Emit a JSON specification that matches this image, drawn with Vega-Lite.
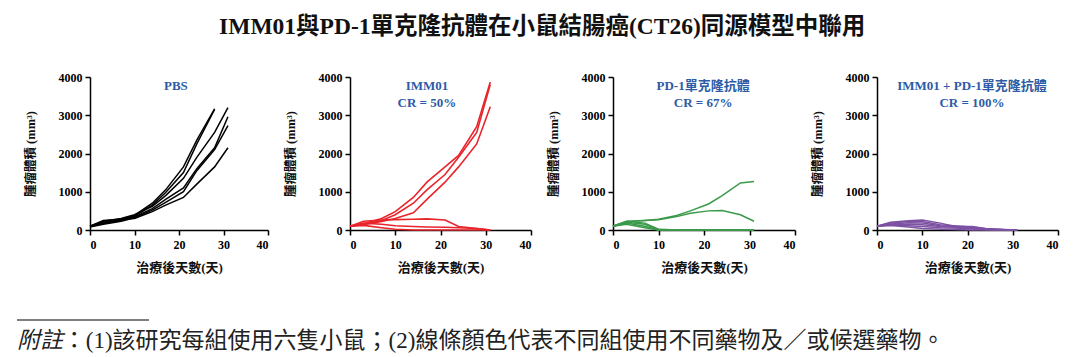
{
  "$schema": "https://vega.github.io/schema/vega-lite/v6.json",
  "padding": {"left": 16, "top": 14, "right": 5, "bottom": 2},
  "title": {
    "text": "IMM01與PD-1單克隆抗體在小鼠結腸癌(CT26)同源模型中聯用",
    "font": "Liberation Serif, Noto Sans CJK TC",
    "fontSize": 23.5,
    "fontWeight": "bold",
    "color": "#111",
    "anchor": "middle",
    "dx": -31,
    "offset": 33
  },
  "config": {
    "view": {"stroke": null},
    "axis": {
      "grid": false,
      "domainColor": "#000",
      "domainWidth": 1.5,
      "tickColor": "#000",
      "tickWidth": 1.5,
      "tickSize": 5,
      "labelFont": "Liberation Serif",
      "labelFontWeight": "bold",
      "labelFontSize": 12,
      "labelColor": "#000",
      "labelOverlap": false,
      "titleFont": "Liberation Serif, Noto Sans CJK TC",
      "titleFontWeight": "bold",
      "titleColor": "#111"
    },
    "axisX": {"titlePadding": 11, "labelPadding": 4, "titleFontSize": 13},
    "axisY": {"titlePadding": 21, "labelPadding": 3, "titleFontSize": 12.5, "format": "d", "tickCount": 5}
  },
  "datasets": {
    "pbs": [
      {"m":"A","d":0,"v":100},{"m":"A","d":3,"v":200},{"m":"A","d":7,"v":280},{"m":"A","d":10,"v":380},{"m":"A","d":14,"v":700},{"m":"A","d":17,"v":1050},{"m":"A","d":21,"v":1650},{"m":"A","d":24,"v":2350},{"m":"A","d":28,"v":3170},
      {"m":"B","d":0,"v":90},{"m":"B","d":3,"v":180},{"m":"B","d":7,"v":260},{"m":"B","d":10,"v":360},{"m":"B","d":14,"v":650},{"m":"B","d":17,"v":980},{"m":"B","d":21,"v":1500},{"m":"B","d":24,"v":2250},{"m":"B","d":28,"v":3150},
      {"m":"C","d":0,"v":100},{"m":"C","d":3,"v":230},{"m":"C","d":7,"v":300},{"m":"C","d":10,"v":400},{"m":"C","d":14,"v":620},{"m":"C","d":17,"v":900},{"m":"C","d":21,"v":1350},{"m":"C","d":24,"v":1900},{"m":"C","d":28,"v":2550},{"m":"C","d":31,"v":3200},
      {"m":"D","d":0,"v":90},{"m":"D","d":3,"v":170},{"m":"D","d":7,"v":250},{"m":"D","d":10,"v":340},{"m":"D","d":14,"v":560},{"m":"D","d":17,"v":800},{"m":"D","d":21,"v":1100},{"m":"D","d":24,"v":1600},{"m":"D","d":28,"v":2150},{"m":"D","d":31,"v":2960},
      {"m":"E","d":0,"v":80},{"m":"E","d":3,"v":150},{"m":"E","d":7,"v":230},{"m":"E","d":10,"v":320},{"m":"E","d":14,"v":520},{"m":"E","d":17,"v":720},{"m":"E","d":21,"v":1000},{"m":"E","d":24,"v":1550},{"m":"E","d":28,"v":2100},{"m":"E","d":31,"v":2730},
      {"m":"F","d":0,"v":100},{"m":"F","d":3,"v":250},{"m":"F","d":7,"v":280},{"m":"F","d":10,"v":300},{"m":"F","d":14,"v":480},{"m":"F","d":17,"v":650},{"m":"F","d":21,"v":850},{"m":"F","d":24,"v":1200},{"m":"F","d":28,"v":1650},{"m":"F","d":31,"v":2150}
    ],
    "imm": [
      {"m":"A","d":0,"v":100},{"m":"A","d":3,"v":160},{"m":"A","d":7,"v":300},{"m":"A","d":10,"v":480},{"m":"A","d":14,"v":850},{"m":"A","d":17,"v":1250},{"m":"A","d":21,"v":1650},{"m":"A","d":24,"v":1950},{"m":"A","d":28,"v":2700},{"m":"A","d":31,"v":3870},
      {"m":"B","d":0,"v":100},{"m":"B","d":3,"v":150},{"m":"B","d":7,"v":250},{"m":"B","d":10,"v":400},{"m":"B","d":14,"v":700},{"m":"B","d":17,"v":1050},{"m":"B","d":21,"v":1450},{"m":"B","d":24,"v":1900},{"m":"B","d":28,"v":2550},{"m":"B","d":31,"v":3800},
      {"m":"C","d":0,"v":100},{"m":"C","d":3,"v":140},{"m":"C","d":7,"v":220},{"m":"C","d":10,"v":300},{"m":"C","d":14,"v":450},{"m":"C","d":17,"v":800},{"m":"C","d":21,"v":1250},{"m":"C","d":24,"v":1650},{"m":"C","d":28,"v":2250},{"m":"C","d":31,"v":3220},
      {"m":"D","d":0,"v":100},{"m":"D","d":3,"v":230},{"m":"D","d":7,"v":260},{"m":"D","d":10,"v":270},{"m":"D","d":14,"v":280},{"m":"D","d":17,"v":290},{"m":"D","d":21,"v":260},{"m":"D","d":24,"v":90},{"m":"D","d":28,"v":40},{"m":"D","d":31,"v":0},
      {"m":"E","d":0,"v":100},{"m":"E","d":3,"v":180},{"m":"E","d":7,"v":150},{"m":"E","d":10,"v":110},{"m":"E","d":14,"v":90},{"m":"E","d":17,"v":80},{"m":"E","d":21,"v":70},{"m":"E","d":24,"v":60},{"m":"E","d":28,"v":40},{"m":"E","d":31,"v":0},
      {"m":"F","d":0,"v":100},{"m":"F","d":3,"v":120},{"m":"F","d":7,"v":60},{"m":"F","d":10,"v":20},{"m":"F","d":14,"v":0},{"m":"F","d":17,"v":0},{"m":"F","d":21,"v":0},{"m":"F","d":24,"v":0},{"m":"F","d":28,"v":0},{"m":"F","d":31,"v":0}
    ],
    "pd1": [
      {"m":"A","d":0,"v":100},{"m":"A","d":3,"v":220},{"m":"A","d":7,"v":250},{"m":"A","d":10,"v":280},{"m":"A","d":14,"v":380},{"m":"A","d":17,"v":500},{"m":"A","d":21,"v":680},{"m":"A","d":24,"v":900},{"m":"A","d":28,"v":1230},{"m":"A","d":31,"v":1270},
      {"m":"B","d":0,"v":100},{"m":"B","d":3,"v":220},{"m":"B","d":7,"v":250},{"m":"B","d":10,"v":270},{"m":"B","d":14,"v":350},{"m":"B","d":17,"v":440},{"m":"B","d":21,"v":500},{"m":"B","d":24,"v":510},{"m":"B","d":28,"v":400},{"m":"B","d":31,"v":230},
      {"m":"C","d":0,"v":100},{"m":"C","d":3,"v":230},{"m":"C","d":7,"v":180},{"m":"C","d":10,"v":20},{"m":"C","d":14,"v":0},{"m":"C","d":17,"v":0},{"m":"C","d":21,"v":0},{"m":"C","d":24,"v":0},{"m":"C","d":28,"v":0},{"m":"C","d":31,"v":0},
      {"m":"D","d":0,"v":100},{"m":"D","d":3,"v":200},{"m":"D","d":7,"v":150},{"m":"D","d":10,"v":10},{"m":"D","d":14,"v":0},{"m":"D","d":17,"v":0},{"m":"D","d":21,"v":0},{"m":"D","d":24,"v":0},{"m":"D","d":28,"v":0},{"m":"D","d":31,"v":0},
      {"m":"E","d":0,"v":100},{"m":"E","d":3,"v":180},{"m":"E","d":7,"v":100},{"m":"E","d":10,"v":0},{"m":"E","d":14,"v":0},{"m":"E","d":17,"v":0},{"m":"E","d":21,"v":0},{"m":"E","d":24,"v":0},{"m":"E","d":28,"v":0},{"m":"E","d":31,"v":0},
      {"m":"F","d":0,"v":100},{"m":"F","d":3,"v":150},{"m":"F","d":7,"v":60},{"m":"F","d":10,"v":0},{"m":"F","d":14,"v":0},{"m":"F","d":17,"v":0},{"m":"F","d":21,"v":0},{"m":"F","d":24,"v":0},{"m":"F","d":28,"v":0},{"m":"F","d":31,"v":0}
    ],
    "combo": [
      {"m":"A","d":0,"v":100},{"m":"A","d":3,"v":200},{"m":"A","d":7,"v":240},{"m":"A","d":10,"v":260},{"m":"A","d":14,"v":180},{"m":"A","d":17,"v":100},{"m":"A","d":21,"v":90},{"m":"A","d":24,"v":40},{"m":"A","d":28,"v":10},{"m":"A","d":31,"v":0},
      {"m":"B","d":0,"v":100},{"m":"B","d":3,"v":180},{"m":"B","d":7,"v":220},{"m":"B","d":10,"v":220},{"m":"B","d":14,"v":140},{"m":"B","d":17,"v":110},{"m":"B","d":21,"v":80},{"m":"B","d":24,"v":30},{"m":"B","d":28,"v":10},{"m":"B","d":31,"v":0},
      {"m":"C","d":0,"v":100},{"m":"C","d":3,"v":160},{"m":"C","d":7,"v":190},{"m":"C","d":10,"v":180},{"m":"C","d":14,"v":110},{"m":"C","d":17,"v":90},{"m":"C","d":21,"v":60},{"m":"C","d":24,"v":20},{"m":"C","d":28,"v":0},{"m":"C","d":31,"v":0},
      {"m":"D","d":0,"v":100},{"m":"D","d":3,"v":150},{"m":"D","d":7,"v":150},{"m":"D","d":10,"v":140},{"m":"D","d":14,"v":90},{"m":"D","d":17,"v":70},{"m":"D","d":21,"v":40},{"m":"D","d":24,"v":10},{"m":"D","d":28,"v":0},{"m":"D","d":31,"v":0},
      {"m":"E","d":0,"v":100},{"m":"E","d":3,"v":130},{"m":"E","d":7,"v":110},{"m":"E","d":10,"v":90},{"m":"E","d":14,"v":60},{"m":"E","d":17,"v":50},{"m":"E","d":21,"v":30},{"m":"E","d":24,"v":10},{"m":"E","d":28,"v":0},{"m":"E","d":31,"v":0},
      {"m":"F","d":0,"v":100},{"m":"F","d":3,"v":120},{"m":"F","d":7,"v":80},{"m":"F","d":10,"v":40},{"m":"F","d":14,"v":20},{"m":"F","d":17,"v":10},{"m":"F","d":21,"v":0},{"m":"F","d":24,"v":0},{"m":"F","d":28,"v":0},{"m":"F","d":31,"v":0}
    ]
  },
  "spacing": 45,
  "vconcat": [
    {
      "hconcat": [
        {
          "width": 178, "height": 153,
          "layer": [
            {
              "data": {"name": "pbs"},
              "mark": {"type": "line", "color": "#000", "strokeWidth": 1.5},
              "encoding": {
                "x": {"field": "d", "type": "quantitative", "scale": {"domain": [0, 40], "nice": false}, "axis": {"values": [0, 10, 20, 30, 40], "title": "治療後天數(天)"}},
                "y": {"field": "v", "type": "quantitative", "scale": {"domain": [0, 4000], "nice": false}, "axis": {"values": [0, 1000, 2000, 3000, 4000], "labelOverlap": false, "title": "腫瘤體積 (mm³)"}},
                "detail": {"field": "m"}
              }
            },
            {
              "data": {"values": [{}]},
              "mark": {"type": "text", "text": ["PBS"], "color": "#2e5ba6", "font": "Liberation Serif, Noto Sans CJK TC", "fontWeight": "bold", "fontSize": 13, "baseline": "top", "lineHeight": 17},
              "encoding": {"x": {"datum": 19.3}, "y": {"datum": 3920, "axis": {"values": [0, 1000, 2000, 3000, 4000], "labelOverlap": false, "title": "腫瘤體積 (mm³)"}}}
            }
          ]
        },
        {
          "width": 181, "height": 153,
          "layer": [
            {
              "data": {"name": "imm"},
              "mark": {"type": "line", "color": "#e8252b", "strokeWidth": 1.6},
              "encoding": {
                "x": {"field": "d", "type": "quantitative", "scale": {"domain": [0, 40], "nice": false}, "axis": {"values": [0, 10, 20, 30, 40], "title": "治療後天數(天)"}},
                "y": {"field": "v", "type": "quantitative", "scale": {"domain": [0, 4000], "nice": false}, "axis": {"values": [0, 1000, 2000, 3000, 4000], "labelOverlap": false, "title": "腫瘤體積 (mm³)"}},
                "detail": {"field": "m"}
              }
            },
            {
              "data": {"values": [{}]},
              "mark": {"type": "text", "text": ["IMM01", "CR = 50%"], "color": "#2e5ba6", "font": "Liberation Serif, Noto Sans CJK TC", "fontWeight": "bold", "fontSize": 13, "baseline": "top", "lineHeight": 17},
              "encoding": {"x": {"datum": 17}, "y": {"datum": 3920, "axis": {"values": [0, 1000, 2000, 3000, 4000], "labelOverlap": false, "title": "腫瘤體積 (mm³)"}}}
            }
          ]
        },
        {
          "width": 182, "height": 153,
          "layer": [
            {
              "data": {"name": "pd1"},
              "mark": {"type": "line", "color": "#3b9a4a", "strokeWidth": 1.5},
              "encoding": {
                "x": {"field": "d", "type": "quantitative", "scale": {"domain": [0, 40], "nice": false}, "axis": {"values": [0, 10, 20, 30, 40], "title": "治療後天數(天)"}},
                "y": {"field": "v", "type": "quantitative", "scale": {"domain": [0, 4000], "nice": false}, "axis": {"values": [0, 1000, 2000, 3000, 4000], "labelOverlap": false, "title": "腫瘤體積 (mm³)"}},
                "detail": {"field": "m"}
              }
            },
            {
              "data": {"values": [{}]},
              "mark": {"type": "text", "text": ["PD-1單克隆抗體", "CR = 67%"], "color": "#2e5ba6", "font": "Liberation Serif, Noto Sans CJK TC", "fontWeight": "bold", "fontSize": 13, "baseline": "top", "lineHeight": 17},
              "encoding": {"x": {"datum": 19.8}, "y": {"datum": 3920, "axis": {"values": [0, 1000, 2000, 3000, 4000], "labelOverlap": false, "title": "腫瘤體積 (mm³)"}}}
            }
          ]
        },
        {
          "width": 181, "height": 153,
          "layer": [
            {
              "data": {"name": "combo"},
              "mark": {"type": "line", "color": "#7d52a3", "strokeWidth": 1.5},
              "encoding": {
                "x": {"field": "d", "type": "quantitative", "scale": {"domain": [0, 40], "nice": false}, "axis": {"values": [0, 10, 20, 30, 40], "title": "治療後天數(天)"}},
                "y": {"field": "v", "type": "quantitative", "scale": {"domain": [0, 4000], "nice": false}, "axis": {"values": [0, 1000, 2000, 3000, 4000], "labelOverlap": false, "title": "腫瘤體積 (mm³)"}},
                "detail": {"field": "m"}
              }
            },
            {
              "data": {"values": [{}]},
              "mark": {"type": "text", "text": ["IMM01 + PD-1單克隆抗體", "CR = 100%"], "color": "#2e5ba6", "font": "Liberation Serif, Noto Sans CJK TC", "fontWeight": "bold", "fontSize": 13, "baseline": "top", "lineHeight": 17},
              "encoding": {"x": {"datum": 21}, "y": {"datum": 3920, "axis": {"values": [0, 1000, 2000, 3000, 4000], "labelOverlap": false, "title": "腫瘤體積 (mm³)"}}}
            }
          ]
        }
      ],
      "spacing": 82,
      "bounds": "flush"
    },
    {
      "width": 1040, "height": 34,
      "data": {"values": [{}]},
      "layer": [
        {
          "mark": {"type": "rule", "color": "#555", "strokeWidth": 1.3},
          "encoding": {
            "x": {"datum": -0.0702, "type": "quantitative", "scale": {"domain": [0, 1]}, "axis": null},
            "x2": {"datum": 0.0567},
            "y": {"datum": 1, "type": "quantitative", "scale": {"domain": [0, 1]}, "axis": null}
          }
        },
        {
          "mark": {"type": "text", "text": "附註", "font": "Noto Sans CJK TC", "fontStyle": "italic", "fontSize": 23, "color": "#222", "align": "left", "baseline": "middle"},
          "encoding": {
            "x": {"datum": -0.0702},
            "y": {"datum": 0.38}
          }
        },
        {
          "mark": {"type": "text", "text": "：(1)該研究每組使用六隻小鼠；(2)線條顏色代表不同組使用不同藥物及／或候選藥物。", "font": "Liberation Serif, Noto Sans CJK TC", "fontSize": 23, "color": "#222", "align": "left", "baseline": "middle"},
          "encoding": {
            "x": {"datum": -0.0262},
            "y": {"datum": 0.38}
          }
        }
      ]
    }
  ]
}
